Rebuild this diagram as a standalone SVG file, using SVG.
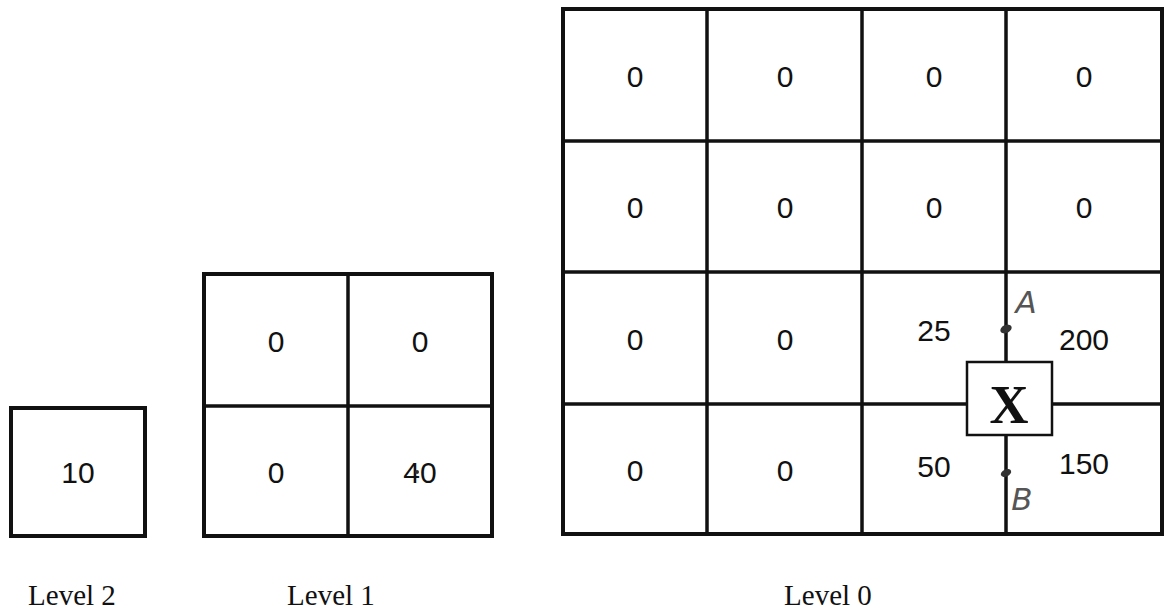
<svg xmlns="http://www.w3.org/2000/svg" width="1170" height="609" viewBox="0 0 1170 609">
  <style>
    .frame { fill: #fff; stroke: #111; stroke-width: 4; }
    .rule { stroke: #111; stroke-width: 3.5; fill: none; }
    .num { font-family: "Liberation Sans", Arial, sans-serif; font-size: 30px; fill: #111; text-anchor: middle; }
    .cap { font-family: "Liberation Serif", "Times New Roman", serif; font-size: 29px; fill: #111; text-anchor: middle; }
    .hand { font-family: "DejaVu Sans", sans-serif; font-style: italic; font-size: 31px; fill: #555; text-anchor: middle; }
    .pt { fill: #333; }
  </style>
  <rect width="1170" height="609" fill="#fff"/>

  <!-- coarsest level: single cell -->
  <g id="level2">
    <rect class="frame" x="11" y="408" width="134" height="128"/>
    <text class="num" x="78" y="483">10</text>
    <text class="cap" x="72" y="605">Level 2</text>
  </g>

  <!-- middle level: 2x2 -->
  <g id="level1">
    <rect class="frame" x="204" y="274" width="288" height="262"/>
    <line class="rule" x1="348" y1="274" x2="348" y2="536"/>
    <line class="rule" x1="204" y1="406" x2="492" y2="406"/>
    <text class="num" x="276" y="352">0</text>
    <text class="num" x="420" y="352">0</text>
    <text class="num" x="276" y="483">0</text>
    <text class="num" x="420" y="483">40</text>
    <circle class="pt" cx="417" cy="472" r="2"/>
    <text class="cap" x="331" y="605">Level 1</text>
  </g>

  <!-- finest level: 4x4 -->
  <g id="level0">
    <rect class="frame" x="563" y="9" width="599" height="525"/>
    <g class="rule">
      <line x1="707" y1="9" x2="707" y2="534"/>
      <line x1="862" y1="9" x2="862" y2="534"/>
      <line x1="1006" y1="9" x2="1006" y2="534"/>
      <line x1="563" y1="141" x2="1162" y2="141"/>
      <line x1="563" y1="272" x2="1162" y2="272"/>
      <line x1="563" y1="404" x2="1162" y2="404"/>
    </g>
    <text class="num" x="635" y="87">0</text>
    <text class="num" x="785" y="87">0</text>
    <text class="num" x="934" y="87">0</text>
    <text class="num" x="1084" y="87">0</text>
    <text class="num" x="635" y="218">0</text>
    <text class="num" x="785" y="218">0</text>
    <text class="num" x="934" y="218">0</text>
    <text class="num" x="1084" y="218">0</text>
    <text class="num" x="635" y="350">0</text>
    <text class="num" x="785" y="350">0</text>
    <text class="num" x="934" y="341">25</text>
    <text class="num" x="1084" y="350">200</text>
    <text class="num" x="635" y="481">0</text>
    <text class="num" x="785" y="481">0</text>
    <text class="num" x="934" y="477">50</text>
    <text class="num" x="1084" y="474">150</text>
    <text class="cap" x="828" y="605">Level 0</text>
  </g>

  <!-- query point X on the cell corner -->
  <g id="query-x">
    <rect x="967" y="362" width="85" height="73" fill="#fff" stroke="#111" stroke-width="2.5"/>
    <text x="1009" y="423" font-family="Liberation Serif, 'Times New Roman', serif" font-weight="bold" font-size="54" text-anchor="middle" fill="#111">X</text>
  </g>

  <!-- sample points on the edge -->
  <g id="point-a">
    <ellipse class="pt" cx="1006" cy="329" rx="6" ry="4" transform="rotate(-25 1006 329)"/>
    <text class="hand" x="1026" y="313">A</text>
  </g>
  <g id="point-b">
    <ellipse class="pt" cx="1006" cy="473" rx="5.5" ry="3.5" transform="rotate(-25 1006 473)"/>
    <text class="hand" x="1022" y="510">B</text>
  </g>

  <g id="connectors"/>
</svg>
